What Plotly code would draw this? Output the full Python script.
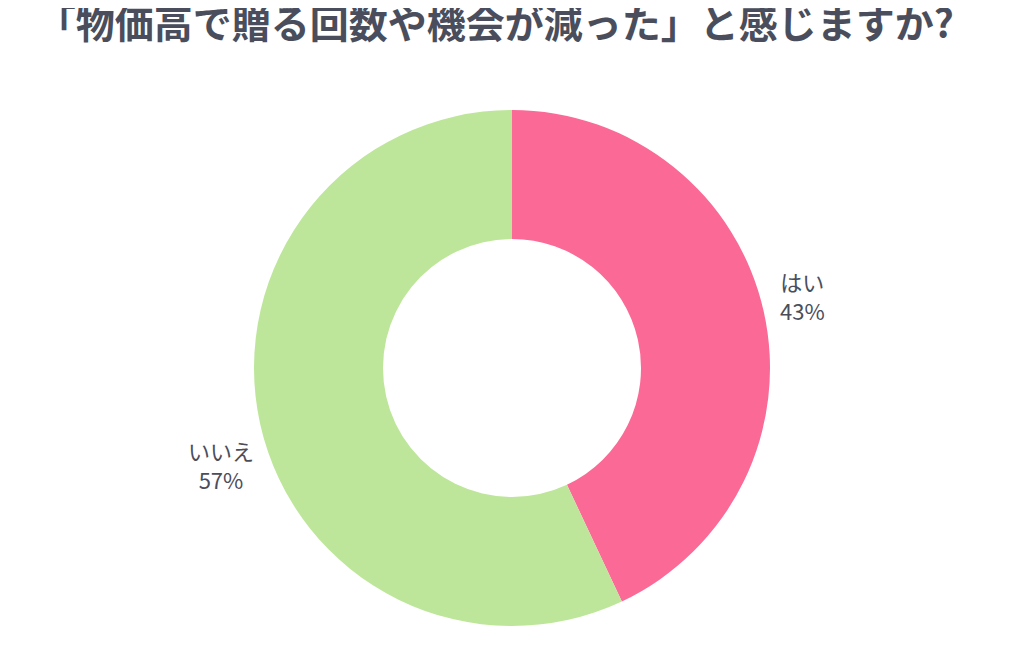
import math
import plotly.graph_objects as go

labels = ["はい", "いいえ"]
values = [43, 57]
colors = ["#FB6996", "#BDE69A"]
title_text = "「物価高で贈る回数や機会が減った」と感じますか?"

W, H = 1024, 665
M = dict(l=0, r=16, t=102, b=47)
pw, ph = W - M["l"] - M["r"], H - M["t"] - M["b"]
radius_px = min(pw, ph) / 2
label_r = radius_px + 12

fig = go.Figure(go.Pie(
    labels=labels,
    values=values,
    hole=0.5,
    sort=False,
    direction="clockwise",
    rotation=0,
    domain=dict(x=[0, 1], y=[0, 1]),
    marker=dict(colors=colors, line=dict(width=0)),
    textinfo="none",
    showlegend=False,
    hoverinfo="label+percent",
))

# outside labels placed along each slice's mid-angle
total = sum(values)
annotations = []
cum = 0
for lab, v in zip(labels, values):
    mid = (cum + v / 2) / total * 2 * math.pi
    cum += v
    dx = label_r * math.sin(mid)
    dy = label_r * math.cos(mid)
    right = dx >= 0
    annotations.append(dict(
        text=f"{lab}<br>{v}%",
        x=0.5 + dx / pw, y=0.5 + dy / ph,
        xref="paper", yref="paper",
        xanchor="left" if right else "right",
        yanchor="bottom" if right else "top",
        xshift=3 if right else 7, yshift=-19 if right else -5,
        showarrow=False, align="center",
        font=dict(size=22, color="#4A4E5C", family="Noto Sans CJK JP"),
    ))

fig.update_layout(
    width=W, height=H,
    margin=dict(**M, autoexpand=False),
    paper_bgcolor="white",
    plot_bgcolor="white",
    annotations=annotations,
    title=dict(
        text="<b>" + title_text + "</b>",
        x=0.028, xanchor="left",
        y=0.975, yanchor="middle",
        font=dict(size=39, color="#4A4E5C", family="Noto Sans CJK JP"),
    ),
)

fig.write_html("out.html")
